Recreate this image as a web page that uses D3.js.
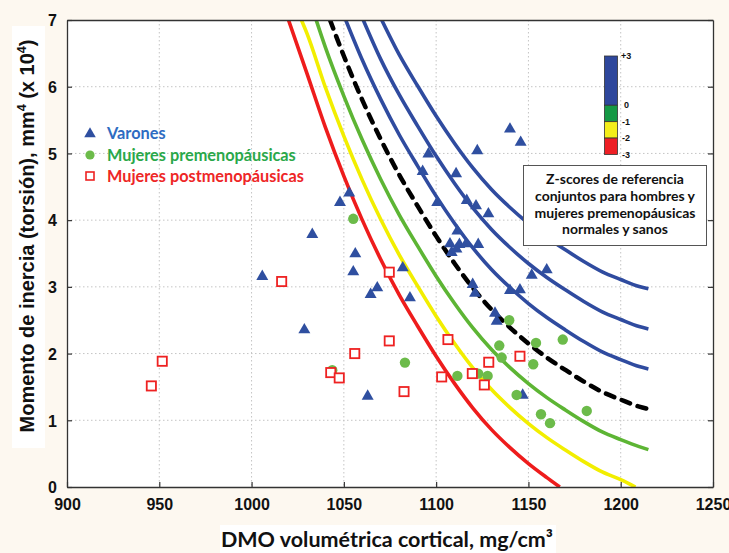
<!DOCTYPE html>
<html>
<head>
<meta charset="utf-8">
<script src="https://cdn.jsdelivr.net/npm/d3@7/dist/d3.min.js"></script>
<style>
  html, body { margin: 0; padding: 0; background: #fdf8f0; }
  svg { display: block; }
</style>
</head>
<body>
<script>
// ---------- DATA ----------
const xTicks = [900, 950, 1000, 1050, 1100, 1150, 1200, 1250];
const yTicks = [0, 1, 2, 3, 4, 5, 6, 7];
const zTicks = ["+3", "0", "-1", "-2", "-3"];
const zTickValues = [3, 0, -1, -2, -3];

// Z-score reference curves [DMO, momento]
const curveZm3 = [[1020,7.0],[1030,6.20],[1040,5.39],[1050,4.66],[1060,4.00],[1070,3.41],[1080,2.88],[1090,2.41],[1100,1.96],[1110,1.55],[1120,1.18],[1130,0.86],[1140,0.59],[1150,0.35],[1160,0.14],[1167,0]];
const curveZm2 = [[1027,7.0],[1030,6.80],[1040,5.99],[1050,5.26],[1060,4.60],[1070,4.01],[1080,3.48],[1090,3.01],[1100,2.56],[1110,2.15],[1120,1.78],[1130,1.46],[1140,1.19],[1150,0.95],[1160,0.74],[1170,0.555],[1180,0.38],[1190,0.225],[1200,0.11],[1208,0]];
const curveZm1 = [[1035,7.0],[1040,6.59],[1050,5.86],[1060,5.20],[1070,4.61],[1080,4.08],[1090,3.61],[1100,3.16],[1110,2.75],[1120,2.38],[1130,2.06],[1140,1.79],[1150,1.55],[1160,1.34],[1170,1.155],[1180,0.98],[1190,0.825],[1200,0.71],[1210,0.605],[1215,0.56]];
const curveZ0  = [[1042.5,7.0],[1050,6.46],[1060,5.80],[1070,5.21],[1080,4.68],[1090,4.21],[1100,3.76],[1110,3.35],[1120,2.98],[1130,2.66],[1140,2.39],[1150,2.15],[1160,1.94],[1170,1.755],[1180,1.58],[1190,1.425],[1200,1.31],[1210,1.205],[1215,1.17]];
const curveZp1 = [[1051,7.0],[1060,6.40],[1070,5.81],[1080,5.28],[1090,4.81],[1100,4.36],[1110,3.95],[1120,3.58],[1130,3.26],[1140,2.99],[1150,2.75],[1160,2.54],[1170,2.355],[1180,2.18],[1190,2.025],[1200,1.91],[1210,1.805],[1215,1.77]];
const curveZp2 = [[1060.5,7.0],[1070,6.41],[1080,5.88],[1090,5.41],[1100,4.96],[1110,4.55],[1120,4.18],[1130,3.86],[1140,3.59],[1150,3.35],[1160,3.14],[1170,2.955],[1180,2.78],[1190,2.625],[1200,2.51],[1210,2.405],[1215,2.37]];
const curveZp3 = [[1070.5,7.0],[1080,6.48],[1090,6.01],[1100,5.56],[1110,5.15],[1120,4.78],[1130,4.46],[1140,4.19],[1150,3.95],[1160,3.74],[1170,3.555],[1180,3.38],[1190,3.225],[1200,3.11],[1210,3.005],[1215,2.97]];

// Varones (triangles)
const varones = [[1052.9,4.42],[1047.9,4.28],[1032.9,3.80],[1056.2,3.51],[1055.1,3.24],[1005.8,3.17],[1081.9,3.30],[1068.1,3.00],[1064.5,2.90],[1085.8,2.85],[1028.6,2.37],[1062.9,1.376],[1119.8,3.05],[1121.1,2.92],[1140.0,2.96],[1145.4,2.97],[1131.9,2.62],[1132.8,2.50],[1146.9,1.39],[1140.0,5.38],[1145.8,5.18],[1122.3,5.055],[1095.8,5.006],[1110.8,4.71],[1092.7,4.745],[1116.6,4.31],[1121.6,4.23],[1128.3,4.11],[1100.6,4.28],[1111.5,3.85],[1107.5,3.66],[1112.6,3.65],[1116.2,3.66],[1122.8,3.65],[1108.4,3.53],[1111.0,3.58],[1151.8,3.19],[1159.9,3.27]];
// Mujeres premenopáusicas (circles)
const premeno = [[1055.1,4.02],[1083.1,1.865],[1043.7,1.75],[1139.6,2.50],[1154.1,2.16],[1168.6,2.21],[1134.2,2.12],[1135.5,1.94],[1152.6,1.84],[1111.5,1.665],[1122.8,1.70],[1127.9,1.665],[1143.6,1.38],[1181.6,1.14],[1156.8,1.09],[1161.7,0.957]];
// Mujeres postmenopáusicas (squares)
const postmeno = [[1074.6,3.22],[1016.3,3.08],[1074.6,2.19],[1055.9,2.00],[951.6,1.885],[1042.9,1.715],[1047.5,1.635],[945.7,1.515],[1082.6,1.43],[1106.4,2.21],[1145.4,1.96],[1128.5,1.87],[1103.0,1.65],[1119.6,1.70],[1126.1,1.53]];

const legendLabels = ["Varones", "Mujeres premenopáusicas", "Mujeres postmenopáusicas"];
const boxLines = ["Z-scores de referencia", "conjuntos para hombres y", "mujeres premenopáusicas", "normales y sanos"];

// ---------- STYLE ----------
const C = {
  red: "#ee1c1c", yellow: "#f2ee00", green: "#5db534", blue: "#2f4b9f", black: "#000",
  tri: "#2f4fa0", dot: "#6cbb4a", sq: "#ee2222",
  legBlue: "#2e6cc2", legGreen: "#2aa84a", legRed: "#ee2626"
};

const W = 729, H = 553;
const svg = d3.select("body").append("svg").attr("width", W).attr("height", H);
svg.append("rect").attr("width", W).attr("height", H).attr("fill", "#fdf8f0");

const x = d3.scaleLinear().domain([900, 1250]).range([67, 713]);
const y = d3.scaleLinear().domain([0, 7]).range([487, 20]);

// white boxes behind titles
svg.append("rect").attr("x", 12).attr("y", 26).attr("width", 33).attr("height", 422).attr("fill", "#fff");
svg.append("rect").attr("x", 220).attr("y", 525).attr("width", 336).attr("height", 28).attr("fill", "#fff");

// plot area
svg.append("rect").attr("x", x(900)).attr("y", y(7)).attr("width", x(1250) - x(900)).attr("height", y(0) - y(7)).attr("fill", "#fff");

// grid
const grid = svg.append("g").attr("stroke", "#c4c4c4").attr("stroke-width", 1).attr("stroke-dasharray", "1.5,2.5");
grid.selectAll("line.gx").data(xTicks.slice(1, -1)).join("line")
  .attr("x1", d => x(d)).attr("x2", d => x(d)).attr("y1", y(7)).attr("y2", y(0));
grid.selectAll("line.gy").data(yTicks.slice(1, -1)).join("line")
  .attr("x1", x(900)).attr("x2", x(1250)).attr("y1", d => y(d)).attr("y2", d => y(d));

// clip
svg.append("clipPath").attr("id", "clip").append("rect")
  .attr("x", x(900)).attr("y", y(7)).attr("width", x(1250) - x(900)).attr("height", y(0) - y(7));

const line = d3.line().x(d => x(d[0])).y(d => y(d[1])).curve(d3.curveMonotoneX);
const curves = [
  { d: curveZm3, c: C.red }, { d: curveZm2, c: C.yellow }, { d: curveZm1, c: C.green },
  { d: curveZp1, c: C.blue }, { d: curveZp2, c: C.blue }, { d: curveZp3, c: C.blue },
  { d: curveZ0, c: C.black, dash: "9,8" }
];
const cg = svg.append("g").attr("clip-path", "url(#clip)");
curves.forEach(cv => {
  cg.append("path").attr("d", line(cv.d)).attr("fill", "none")
    .attr("stroke", cv.c).attr("stroke-width", cv.dash ? 4.5 : 3.6)
    .attr("stroke-linecap", cv.dash ? "round" : "butt")
    .attr("stroke-dasharray", cv.dash || null);
});

// markers
const mg = svg.append("g");
mg.selectAll("path.tri").data(varones).join("path")
  .attr("transform", d => `translate(${x(d[0])},${y(d[1]) + 1})`)
  .attr("d", d3.symbol().type(d3.symbolTriangle).size(62)).attr("fill", C.tri);
mg.selectAll("circle.dot").data(premeno).join("circle")
  .attr("cx", d => x(d[0])).attr("cy", d => y(d[1])).attr("r", 5.2).attr("fill", C.dot);
mg.selectAll("rect.sq").data(postmeno).join("rect")
  .attr("x", d => x(d[0]) - 4.6).attr("y", d => y(d[1]) - 4.6).attr("width", 9.2).attr("height", 9.2)
  .attr("fill", "#fff").attr("stroke", C.sq).attr("stroke-width", 1.8);

// axes
const tickFont = "'Liberation Sans', Arial, sans-serif";
const fmt = d => String(d);
const ax = svg.append("g").attr("transform", `translate(0,${y(0)})`)
  .call(d3.axisBottom(x).tickValues(xTicks).tickFormat(fmt).tickSize(-5).tickPadding(11).tickSizeOuter(0));
const ay = svg.append("g").attr("transform", `translate(${x(900)},0)`)
  .call(d3.axisLeft(y).tickValues(yTicks).tickFormat(fmt).tickSize(-5).tickPadding(10).tickSizeOuter(0));
const ar = svg.append("g").attr("transform", `translate(${x(1250)},0)`)
  .call(d3.axisRight(y).tickValues(yTicks).tickSize(-5).tickFormat("").tickSizeOuter(0));
const at = svg.append("g").attr("transform", `translate(0,${y(7)})`)
  .call(d3.axisTop(x).tickValues([]).tickSizeOuter(0));
[ax, ay, ar, at].forEach(g => {
  g.selectAll(".domain").attr("stroke", "#333").attr("stroke-width", 1.3);
  g.selectAll(".tick line").attr("stroke", "#333").attr("stroke-width", 1.2);
  g.selectAll("text").attr("font-family", tickFont).attr("font-weight", "bold").attr("font-size", 16).attr("fill", "#111");
});
ax.selectAll(".tick text").attr("dy", "0.72em");
ay.selectAll(".tick text").attr("dy", "0.36em");

// axis titles
const yt = svg.append("text").attr("transform", `translate(34,236) rotate(-90)`)
  .attr("text-anchor", "middle").attr("font-family", tickFont).attr("font-weight", "bold")
  .attr("font-size", 20).attr("fill", "#111");
yt.append("tspan").text("Momento de inercia (torsión), mm");
yt.append("tspan").attr("font-size", 12.5).attr("dy", -8).text("4");
yt.append("tspan").attr("dy", 8).text(" (x 10");
yt.append("tspan").attr("font-size", 12.5).attr("dy", -8).text("4");
yt.append("tspan").attr("dy", 8).text(")");

svg.append("text").attr("x", 387).attr("y", 547).attr("text-anchor", "middle")
  .attr("font-family", "Lato, 'Open Sans', sans-serif").attr("font-weight", "bold")
  .attr("font-size", 21.5).attr("fill", "#111").text("DMO volumétrica cortical, mg/cm³");

// legend
const legFont = "Lato, 'Open Sans', sans-serif";
const leg = svg.append("g");
const legColors = [C.legBlue, C.legGreen, C.legRed];
const legY = [133, 155, 176];
legendLabels.forEach((t, i) => {
  leg.append("text").attr("x", 107).attr("y", legY[i] + 5.5).attr("font-family", legFont)
    .attr("font-weight", "bold").attr("font-size", 16.3).attr("fill", legColors[i]).text(t);
});
leg.append("path").attr("transform", `translate(90,${legY[0] + 1})`)
  .attr("d", d3.symbol().type(d3.symbolTriangle).size(58)).attr("fill", C.tri);
leg.append("circle").attr("cx", 90).attr("cy", legY[1]).attr("r", 4.6).attr("fill", C.dot);
leg.append("rect").attr("x", 86).attr("y", legY[2] - 4).attr("width", 8).attr("height", 8)
  .attr("fill", "#fff").attr("stroke", C.sq).attr("stroke-width", 1.6);

// colour bar
const z = d3.scaleLinear().domain([-3, 3]).range([154.5, 56]);
const bands = [[0, 3, "#2e479c"], [-1, 0, "#159945"], [-2, -1, "#f4ee1a"], [-3, -2, "#ee1f25"]];
const cb = svg.append("g");
bands.forEach(b => {
  cb.append("rect").attr("x", 604.5).attr("width", 13).attr("y", z(b[1])).attr("height", z(b[0]) - z(b[1]))
    .attr("fill", b[2]).attr("stroke", "#333").attr("stroke-width", 0.8);
});
zTickValues.forEach((v, i) => {
  cb.append("text").attr("x", i === 0 ? 621 : (zTicks[i] === "0" ? 624 : 622)).attr("y", z(v)).attr("dy", "0.35em")
    .attr("font-family", tickFont).attr("font-weight", "bold").attr("font-size", 9).attr("fill", "#111").text(zTicks[i]);
});

// annotation box
const bx = svg.append("g");
bx.append("rect").attr("x", 523.5).attr("y", 165.5).attr("width", 183).attr("height", 80)
  .attr("fill", "#fff").attr("stroke", "#555").attr("stroke-width", 1);
boxLines.forEach((t, i) => {
  bx.append("text").attr("x", 615).attr("y", 184 + i * 16.8).attr("text-anchor", "middle")
    .attr("font-family", legFont).attr("font-weight", "bold").attr("font-size", 14).attr("fill", "#111").text(t);
});
</script>
</body>
</html>
